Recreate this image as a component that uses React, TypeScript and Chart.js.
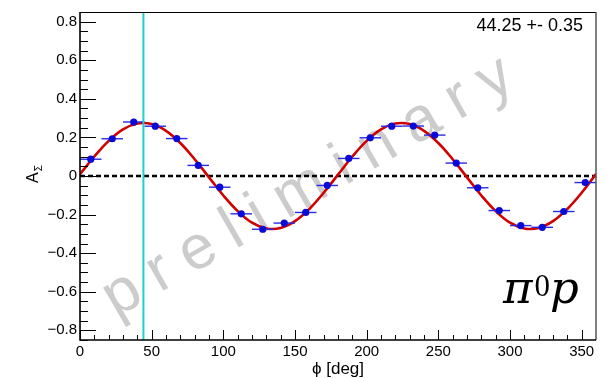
import React, { useEffect, useRef } from "react";
import { Chart, registerables } from "chart.js";

Chart.register(...registerables);

// ---- data ----
const binCenters = [7.5, 22.5, 37.5, 52.5, 67.5, 82.5, 97.5, 112.5, 127.5, 142.5, 157.5, 172.5, 187.5, 202.5, 217.5, 232.5, 247.5, 262.5, 277.5, 292.5, 307.5, 322.5, 337.5, 352.5];
const binHalfWidths = [7.5, 7.5, 7.5, 7.5, 7.5, 7.5, 7.5, 7.5, 7.5, 7.5, 7.5, 7.5, 7.5, 7.5, 7.5, 7.5, 7.5, 7.5, 7.5, 7.5, 7.5, 7.5, 7.5, 7.5];
const asymmetry = [0.087, 0.193, 0.280, 0.258, 0.194, 0.055, -0.058, -0.196, -0.276, -0.244, -0.189, -0.049, 0.091, 0.198, 0.258, 0.259, 0.212, 0.067, -0.061, -0.179, -0.257, -0.266, -0.184, -0.034];

const fitPhi = [0, 10, 20, 30, 40, 50, 60, 70, 80, 90, 100, 110, 120, 130, 140, 150, 160, 170, 180, 190, 200, 210, 220, 230, 240, 250, 260, 270, 280, 290, 300, 310, 320, 330, 340, 350, 360];
const fitValues = [0.010, 0.101, 0.182, 0.242, 0.272, 0.269, 0.234, 0.171, 0.087, -0.007, -0.101, -0.182, -0.242, -0.272, -0.269, -0.234, -0.171, -0.087, 0.007, 0.101, 0.182, 0.242, 0.272, 0.269, 0.234, 0.171, 0.087, -0.007, -0.101, -0.182, -0.242, -0.272, -0.269, -0.234, -0.171, -0.087, 0.010];

const phi0 = 44.25;
const fitLabel = "44.25 +- 0.35";
const reactionLabel = ["\u03C0", "0", "p"];
const watermark = "preliminary";
const xTitle = "\u03D5 [deg]";
const yTitleMain = "A";
const yTitleSub = "\u03A3";

const xMajorTicks = [0, 50, 100, 150, 200, 250, 300, 350];
const xMinorTicks = [10, 20, 30, 40, 60, 70, 80, 90, 110, 120, 130, 140, 160, 170, 180, 190, 210, 220, 230, 240, 260, 270, 280, 290, 310, 320, 330, 340];
const yMajorTicks = [-0.8, -0.6, -0.4, -0.2, 0, 0.2, 0.4, 0.6, 0.8];
const yMinorTicks = [-0.85, -0.75, -0.7, -0.65, -0.55, -0.5, -0.45, -0.35, -0.3, -0.25, -0.15, -0.1, -0.05, 0.05, 0.1, 0.15, 0.25, 0.3, 0.35, 0.45, 0.5, 0.55, 0.65, 0.7, 0.75, 0.85];

const X_MIN = 0, X_MAX = 360, Y_MIN = -0.85, Y_MAX = 0.85;

const FONT = '"Liberation Sans", Arial, Helvetica, sans-serif';
const RED = "#d10000";
const BLUE = "#0a0ad6";
const BAR_BLUE = "#2a2ae6";
const CYAN = "#1ad1d1";

const fmt = (v: number) => {
  if (Math.abs(v) < 1e-9) return "0";
  const s = Math.abs(v).toFixed(1);
  return v < 0 ? "\u2212" + s : s;
};

const decor = {
  id: "decor",
  beforeDatasetsDraw(chart: any) {
    const { ctx, chartArea: a, scales } = chart;
    const y = scales.y;
    ctx.save();
    ctx.beginPath();
    ctx.rect(a.left, a.top, a.right - a.left, a.bottom - a.top);
    ctx.clip();
    // watermark
    ctx.save();
    ctx.fillStyle = "rgba(198,198,198,0.9)";
    ctx.font = `62px ${FONT}`;
    (ctx as any).letterSpacing = "16px";
    ctx.translate(116, 318);
    ctx.rotate((-30 * Math.PI) / 180);
    ctx.textBaseline = "alphabetic";
    ctx.fillText(watermark, 0, 0);
    ctx.restore();
    // zero dashed line
    const y0 = y.getPixelForValue(0);
    ctx.strokeStyle = "#000";
    ctx.lineWidth = 2.4;
    ctx.setLineDash([5, 3]);
    ctx.beginPath();
    ctx.moveTo(a.left, y0);
    ctx.lineTo(a.right, y0);
    ctx.stroke();
    ctx.setLineDash([]);
    ctx.restore();
  },
  afterDatasetDraw(chart: any, args: any) {
    if (args.index !== 0) return;
    const { ctx, scales } = chart;
    const x = scales.x, y = scales.y;
    ctx.save();
    ctx.strokeStyle = BAR_BLUE;
    ctx.lineWidth = 1.4;
    binCenters.forEach((c, i) => {
      const py = y.getPixelForValue(asymmetry[i]);
      ctx.beginPath();
      ctx.moveTo(x.getPixelForValue(c - binHalfWidths[i]), py);
      ctx.lineTo(x.getPixelForValue(c + binHalfWidths[i]), py);
      ctx.stroke();
    });
    ctx.restore();
  },
  afterDatasetsDraw(chart: any) {
    const { ctx, chartArea: a, scales } = chart;
    const px = scales.x.getPixelForValue(phi0);
    ctx.save();
    ctx.strokeStyle = CYAN;
    ctx.lineWidth = 2;
    ctx.beginPath();
    ctx.moveTo(px, a.top);
    ctx.lineTo(px, a.bottom);
    ctx.stroke();
    ctx.restore();
  },
  afterDraw(chart: any) {
    const { ctx, chartArea: a, scales } = chart;
    const x = scales.x, y = scales.y;
    ctx.save();
    // ticks
    ctx.strokeStyle = "#000";
    ctx.lineWidth = 1;
    ctx.beginPath();
    yMajorTicks.forEach((v) => {
      const p = Math.round(y.getPixelForValue(v)) + 0.5;
      ctx.moveTo(a.left, p);
      ctx.lineTo(a.left + 16, p);
    });
    yMinorTicks.forEach((v) => {
      const p = Math.round(y.getPixelForValue(v)) + 0.5;
      ctx.moveTo(a.left, p);
      ctx.lineTo(a.left + 8, p);
    });
    xMajorTicks.forEach((v) => {
      const p = Math.round(x.getPixelForValue(v)) + 0.5;
      ctx.moveTo(p, a.bottom);
      ctx.lineTo(p, a.bottom - 10);
    });
    xMinorTicks.forEach((v) => {
      const p = Math.round(x.getPixelForValue(v)) + 0.5;
      ctx.moveTo(p, a.bottom);
      ctx.lineTo(p, a.bottom - 5);
    });
    ctx.stroke();
    // frame
    ctx.lineWidth = 1;
    ctx.strokeStyle = "#000";
    ctx.beginPath();
    ctx.moveTo(a.left, a.top + 0.5);
    ctx.lineTo(a.right, a.top + 0.5);
    ctx.stroke();
    ctx.strokeStyle = "#555";
    ctx.lineWidth = 1.5;
    ctx.beginPath();
    ctx.moveTo(a.right, a.top);
    ctx.lineTo(a.right, a.bottom);
    ctx.stroke();
    ctx.strokeStyle = "#000";
    ctx.lineWidth = 1.6;
    ctx.beginPath();
    ctx.moveTo(a.left, a.top);
    ctx.lineTo(a.left, a.bottom);
    ctx.lineTo(a.right, a.bottom);
    ctx.stroke();

    // fit result text
    ctx.fillStyle = "#000";
    ctx.font = `18px ${FONT}`;
    ctx.textAlign = "right";
    ctx.textBaseline = "alphabetic";
    ctx.fillText(fitLabel, 583, 31);

    // reaction label
    ctx.textAlign = "left";
    ctx.font = `italic 45px "DejaVu Serif", "Liberation Serif", serif`;
    const piW = ctx.measureText(reactionLabel[0]).width;
    ctx.fillText(reactionLabel[0], 503, 303);
    ctx.font = `31px "Liberation Serif", serif`;
    const zW = ctx.measureText(reactionLabel[1]).width;
    ctx.fillText(reactionLabel[1], 503 + piW + 2, 296);
    ctx.font = `italic 45px "DejaVu Serif", "Liberation Serif", serif`;
    ctx.fillText(reactionLabel[2], 503 + piW + 2 + zW, 303);

    // x title
    ctx.font = `17px ${FONT}`;
    ctx.textAlign = "center";
    ctx.fillText(xTitle, (a.left + a.right) / 2, 374);

    // y title
    ctx.save();
    ctx.translate(38, 183);
    ctx.rotate(-Math.PI / 2);
    ctx.textAlign = "left";
    ctx.font = `16px ${FONT}`;
    ctx.fillText(yTitleMain, 0, 0);
    const aW = ctx.measureText(yTitleMain).width;
    ctx.font = `10px ${FONT}`;
    ctx.fillText(yTitleSub, aW + 1, 4);
    ctx.restore();
    ctx.restore();
  },
};

export default function App() {
  const ref = useRef<HTMLCanvasElement>(null);
  useEffect(() => {
    const chart = new Chart(ref.current!, {
      type: "scatter",
      data: {
        datasets: [
          {
            label: "fit",
            data: fitPhi.map((v, i) => ({ x: v, y: fitValues[i] })),
            showLine: true,
            borderColor: RED,
            borderWidth: 2.6,
            pointRadius: 0,
            tension: 0.4,
            order: 2,
          } as any,
          {
            label: "data",
            data: binCenters.map((v, i) => ({ x: v, y: asymmetry[i] })),
            pointRadius: 3.6,
            pointBackgroundColor: BLUE,
            pointBorderColor: BLUE,
            pointBorderWidth: 0,
            order: 1,
          } as any,
        ],
      },
      options: {
        animation: false,
        responsive: false,
        events: [],
        layout: { padding: { top: 7, right: 15, left: 0, bottom: 0 } },
        plugins: { legend: { display: false }, tooltip: { enabled: false } },
        scales: {
          x: {
            type: "linear",
            min: X_MIN,
            max: X_MAX,
            grid: { display: false, drawTicks: false },
            border: { display: false },
            ticks: { padding: 3, color: "#000", font: { family: FONT, size: 15 }, maxRotation: 0, autoSkip: false },
            afterBuildTicks: (s: any) => {
              s.ticks = xMajorTicks.map((v) => ({ value: v }));
            },
            afterFit: (s: any) => {
              s.height = 38;
            },
          },
          y: {
            type: "linear",
            min: Y_MIN,
            max: Y_MAX,
            grid: { display: false, drawTicks: false },
            border: { display: false },
            ticks: {
              padding: 3,
              color: "#000",
              font: { family: FONT, size: 15 },
              autoSkip: false,
              callback: (v: any) => fmt(Number(v)),
            },
            afterBuildTicks: (s: any) => {
              s.ticks = yMajorTicks.map((v) => ({ value: v }));
            },
            afterFit: (s: any) => {
              s.width = 80;
            },
          },
        },
      },
      plugins: [decor],
    });
    return () => chart.destroy();
  }, []);
  return (
    <div style={{ position: "absolute", left: 0, top: 0, width: 611, height: 378, background: "#fff" }}>
      <canvas ref={ref} width={611} height={378} style={{ width: 611, height: 378, display: "block" }} />
    </div>
  );
}
